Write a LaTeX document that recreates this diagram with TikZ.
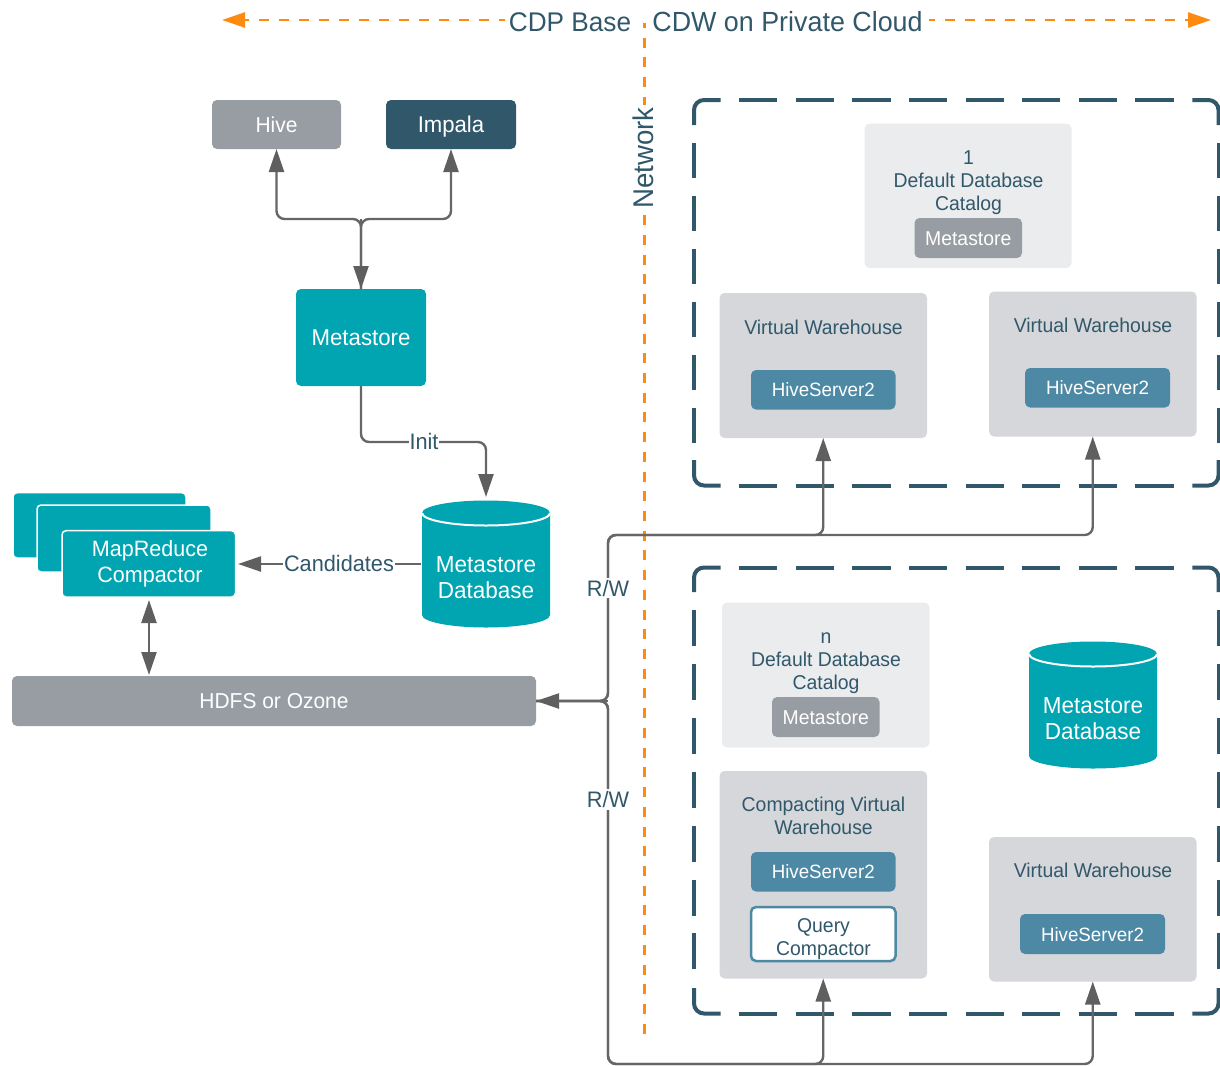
\documentclass[tikz,border=0pt]{standalone}
\usepackage{fontspec}
\setmainfont[FakeStretch=0.97]{Liberation Sans}
\usetikzlibrary{arrows.meta}
\definecolor{ink}{HTML}{31586A}
\definecolor{teal}{HTML}{00A5B1}
\definecolor{slate}{HTML}{989DA4}
\definecolor{hs}{HTML}{4D89A4}
\definecolor{wh}{HTML}{D5D7DB}
\definecolor{cat}{HTML}{EBECEE}
\definecolor{line}{HTML}{666666}
\definecolor{tipc}{HTML}{5F5F5F}
\definecolor{org}{HTML}{FF8A10}
\newcommand\bx[6][]{\pgfmathsetmacro\bcx{(#3+#5)/2}\pgfmathsetmacro\bcy{(#4+#6)/2}\pgfmathsetmacro\bwd{#5-#3}\pgfmathsetmacro\bht{#6-#4}%
 \node[bxs,#1,minimum width=\bwd pt,minimum height=\bht pt] (#2) at (\bcx,\bcy) {\bxtext};}
% zone: top y, bottom y, top corner end y, bottom corner start y, first dash y, last dash y, on, off
\newcommand\zonebox[8]{%
 \draw[zonecorner] (720.6,#1) -- (694,#1) -- (694,#3);
 \draw[zonecorner] (1192.4,#1) -- (1218.5,#1) -- (1218.5,#3);
 \draw[zonecorner] (720.6,#2) -- (694,#2) -- (694,#4);
 \draw[zonecorner] (1192.4,#2) -- (1218.5,#2) -- (1218.5,#4);
 \draw[zoneside,dash pattern=on 38.2pt off 18.4pt] (739.2,#1) -- (1173.5,#1);
 \draw[zoneside,dash pattern=on 38.2pt off 18.4pt] (739.2,#2) -- (1173.5,#2);
 \draw[zoneside,dash pattern=on #7pt off #8pt] (694,#5) -- (694,#6);
 \draw[zoneside,dash pattern=on #7pt off #8pt] (1218.5,#5) -- (1218.5,#6);
}
\tikzset{
 x=1pt,y=-1pt,
 bxs/.style={rounded corners=5pt,inner sep=0pt,outer sep=0pt,align=center,font=\fontsize{20}{23}\selectfont},
 one/.style={text height=#1pt,text depth=4pt},
 one/.default=18.3,
 tealbox/.style={fill=teal,text=white},
 mrbox/.style={fill=teal,draw=white,line width=1.5pt,rounded corners=4pt},
 graybox/.style={fill=slate,text=white},
 hsbox/.style={fill=hs,text=white,one,font=\fontsize{19.3}{23}\selectfont},
 whbox/.style={fill=wh},
 catbox/.style={fill=cat},
 querybox/.style={fill=white,draw=hs,line width=2.5pt},
 lbl/.style={text=ink,inner sep=0pt,align=center,font=\fontsize{20}{23}\selectfont},
 wlbl/.style={text=white,inner sep=0pt,align=center,font=\fontsize{23.2}{26}\selectfont},
 elbl/.style={lbl,fill=white,inner sep=2pt,font=\fontsize{22.4}{26}\selectfont},
 titlelbl/.style={text=ink,inner sep=0pt,font=\fontsize{27}{30}\selectfont},
 conn/.style={draw=line,line width=2.4pt,rounded corners=8pt},
 tip/.tip={Triangle[length=23pt,width=15pt,color=tipc]},
 sharpconn/.style={draw=line,line width=2.4pt},
 orangeline/.style={draw=org,line width=2.5pt,dash pattern=on 10pt off 10pt,dash phase=4pt},
 zonecorner/.style={draw=ink,line width=4pt,rounded corners=10pt},
 zoneside/.style={draw=ink,line width=4pt},
}
\begin{document}
\begin{tikzpicture}
\useasboundingbox (0,0) rectangle (1220,1065);
\let\bxtext\relax
% network divider
\coordinate (netTop) at (644.5,23);
\coordinate (netBot) at (644.5,1036);
\draw[orangeline,dash pattern=on 10pt off 9.72pt,dash phase=5pt] (netTop) -- (netBot);
% top labels and arrows
\node[titlelbl] (cdp) at (570,22.5) {CDP Base};
\node[titlelbl,font=\fontsize{27.7}{30}\selectfont] (cdw) at (787.5,22) {CDW on Private Cloud};
\coordinate (leftEnd) at (222,20);
\coordinate (rightEnd) at (1211,20);
\coordinate (leftStart) at (505,20);
\coordinate (rightStart) at (928.6,20);
\draw[orangeline,-{Triangle[length=23pt,width=15pt,color=org]}] (leftStart) -- (leftEnd);
\draw[orangeline,-{Triangle[length=23pt,width=15pt,color=org]}] (rightStart) -- (rightEnd);
\node[titlelbl,fill=white,rotate=90,inner sep=2pt,font=\fontsize{28.5}{30}\selectfont] (net) at (643.5,158) {Network};
% zones
\zonebox{100}{485.5}{125}{460}{142.7}{442.7}{35.5}{17.55}
\zonebox{567.5}{1013.5}{592}{988}{610}{969.3}{36.3}{17.6}
% left side
\def\bxtext{Hive}\bx[graybox,one=19.5,font=\fontsize{21.6}{26}\selectfont]{hive}{212}{100}{341}{149}
\def\bxtext{Impala}\bx[fill=ink,text=white,one=19.5,font=\fontsize{22.8}{26}\selectfont]{impala}{386}{100}{516}{149}
\def\bxtext{Metastore}\bx[tealbox,one=20.4,font=\fontsize{22.9}{26}\selectfont]{meta}{296}{289}{426}{386}
\def\bxtext{}\bx[mrbox]{mr1}{13}{492.7}{186}{558}
\def\bxtext{}\bx[mrbox]{mr2}{37}{505}{211}{572}
\def\bxtext{}\bx[mrbox]{mr3}{62}{530.7}{235.5}{597}
\node[wlbl,font=\fontsize{22.2}{26}\selectfont] (mr3t) at (150,564) {MapReduce\\Compactor};
\def\bxtext{HDFS or Ozone}\bx[graybox,one=19.5,font=\fontsize{21.6}{26}\selectfont]{hdfs}{12}{676}{536}{726}
% cylinders
\fill[teal] (422,513) arc[start angle=180,end angle=360,x radius=64,y radius=12.5] -- (550,615) arc[start angle=0,end angle=180,x radius=64,y radius=12.5] -- cycle;
\draw[white,line width=2pt] (422,513) arc[start angle=180,end angle=0,x radius=64,y radius=12.5];
\node[wlbl] (db1) at (486,578) {Metastore\\Database};
\fill[teal] (1029,654) arc[start angle=180,end angle=360,x radius=64,y radius=12.5] -- (1157,756) arc[start angle=0,end angle=180,x radius=64,y radius=12.5] -- cycle;
\draw[white,line width=2pt] (1029,654) arc[start angle=180,end angle=0,x radius=64,y radius=12.5];
\node[wlbl] (db2) at (1093,719) {Metastore\\Database};
% cloud 1
\def\bxtext{}\bx[catbox]{cat1}{864.5}{123.5}{1071.5}{268}
\node[lbl] (cat1t) at (968.5,182.5) {1\\Default Database\\Catalog};
\def\bxtext{Metastore}\bx[graybox,one]{ms1}{914.5}{218}{1022}{258}
\def\bxtext{}\bx[whbox]{vw1}{719.5}{293}{927}{438}
\node[lbl] (vw1t) at (823.5,327) {Virtual Warehouse};
\def\bxtext{HiveServer2}\bx[hsbox]{hs1}{751}{370}{895.5}{409.5}
\def\bxtext{}\bx[whbox]{vw2}{989}{291.5}{1196.5}{436.5}
\node[lbl] (vw2t) at (1093,325) {Virtual Warehouse};
\def\bxtext{HiveServer2}\bx[hsbox]{hs2}{1025}{368}{1170}{407.5}
% cloud n
\def\bxtext{}\bx[catbox]{cat2}{722}{602.5}{929.5}{747.5}
\node[lbl] (cat2t) at (826,663.5) {n\\Default Database\\Catalog};
\def\bxtext{Metastore}\bx[graybox,one]{ms2}{772}{697}{879.5}{737}
\def\bxtext{}\bx[whbox]{vw3}{719.5}{771}{927}{978.5}
\node[lbl] (vw3t) at (823.5,816) {Compacting Virtual\\Warehouse};
\def\bxtext{HiveServer2}\bx[hsbox]{hs3}{751}{852}{895.5}{891.5}
\def\bxtext{}\bx[querybox]{qc}{751}{907}{895.5}{961}
\node[lbl] (qct) at (823.5,939) {Query\\Compactor};
\def\bxtext{}\bx[whbox]{vw4}{989}{837}{1196.5}{981.5}
\node[lbl] (vw4t) at (1093,870) {Virtual Warehouse};
\def\bxtext{HiveServer2}\bx[hsbox]{hs4}{1020}{914}{1165}{954}
% connectors
\coordinate (fork) at (361,219);
\draw[conn,-tip] (meta.north) -- (fork) -| (hive.south);
\draw[conn,-tip] (meta.north) -- (fork) -| (impala.south);
\draw[conn,-tip] (fork) -- (meta.north);
\coordinate (dbtop) at (486,497);
\coordinate (initpt) at (424,442);
\draw[conn,-tip] (meta.south) |- (initpt) -| (dbtop);
\node[elbl,inner sep=1pt] (init) at (424,441.5) {Init};
\coordinate (dbleft) at (421,564);
\coordinate (mrright) at (238,564);
\draw[sharpconn,-tip] (dbleft) -- (mrright);
\node[elbl,inner sep=1pt] (cand) at (339,563.5) {Candidates};
\coordinate (mrbot) at (149,600);
\coordinate (hdfstop) at (149,675);
\draw[sharpconn,tip-tip] (mrbot) -- (hdfstop);
\coordinate (rwj) at (608,701);
\coordinate (rwt) at (608,535);
\coordinate (rwb) at (608,1064);
\draw[conn,-tip] (hdfs.east) -- (rwj) -- (rwt) -| (vw1.south);
\draw[conn,-tip] (hdfs.east) -- (rwj) -- (rwt) -| (vw2.south);
\draw[conn,-tip] (hdfs.east) -- (rwj) -- (rwb) -| (vw3.south);
\draw[conn,-tip] (hdfs.east) -- (rwj) -- (rwb) -| (vw4.south);
\draw[conn,-tip] (rwj) -- (hdfs.east);
\node[elbl] (rw1) at (608,588) {R/W};
\node[elbl] (rw2) at (608,799.5) {R/W};
\end{tikzpicture}
\end{document}
